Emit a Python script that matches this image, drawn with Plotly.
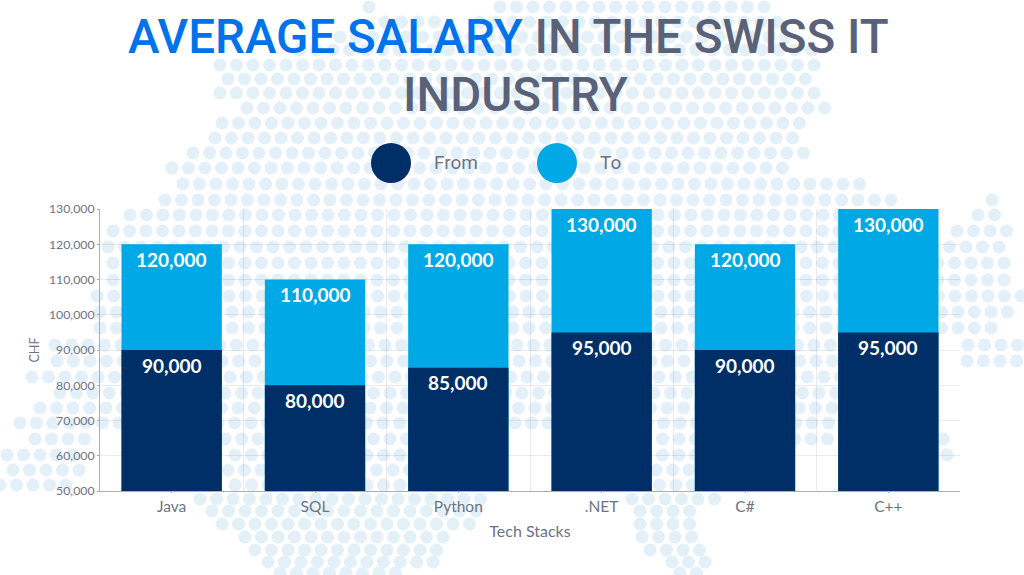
import plotly.graph_objects as go

categories = ["Java", "SQL", "Python", ".NET", "C#", "C++"]
salary_from = [90000, 80000, 85000, 95000, 90000, 95000]
salary_to = [120000, 110000, 120000, 130000, 120000, 130000]
y_ticks = list(range(50000, 130001, 10000))

# Decorative dotted map behind the chart: (row y in px, [(x from, x to), ...])
map_rows = [
    (7, [(369, 369), (500, 765)]), (22, [(385, 450), (480, 790)]), (37, [(340, 800)]),
    (50, [(300, 815)]), (65, [(220, 828)]), (79, [(228, 820)]), (93, [(220, 828)]),
    (108, [(247, 837)]), (123, [(222, 810)]), (138, [(215, 800)]), (153, [(193, 805)]),
    (168, [(172, 793)]), (184, [(183, 863)]), (200, [(165, 898), (992, 992)]),
    (215, [(130, 895), (978, 1010)]), (231, [(113, 895), (957, 1015)]),
    (247, [(108, 1015)]), (263, [(113, 1015)]), (280, [(113, 1015)]), (296, [(97, 1024)]),
    (312, [(100, 1010)]), (328, [(100, 1000)]), (345, [(55, 940), (968, 1024)]),
    (361, [(57, 920), (967, 1024)]), (377, [(32, 900)]), (393, [(60, 900)]),
    (408, [(40, 945)]), (423, [(20, 930)]), (439, [(35, 85), (225, 500), (580, 950)]),
    (455, [(7, 85), (235, 490), (580, 700), (947, 963)]),
    (470, [(13, 85), (228, 490), (590, 700)]), (485, [(0, 70), (235, 480), (610, 705)]),
    (499, [(200, 490), (632, 715)]), (511, [(212, 482), (640, 705)]),
    (524, [(222, 475), (640, 695)]), (537, [(245, 450), (642, 695)]),
    (550, [(255, 443), (650, 702)]), (562, [(268, 435), (672, 708)]), (573, [(280, 400), (680, 700)]),
]

dot_x, dot_y = [], []
for i, (row_y, spans) in enumerate(map_rows):
    for x0, x1 in spans:
        x = x0
        while x <= x1:
            dot_x.append(x)
            dot_y.append(row_y)
            x += 16.5

fig = go.Figure()
fig.add_trace(go.Scatter(
    x=dot_x, y=dot_y, mode="markers", hoverinfo="skip", showlegend=False,
    marker=dict(size=13, color="#E3F0F7", line=dict(width=0)),
    xaxis="x", yaxis="y",
))

idx = list(range(len(categories)))
fig.add_trace(go.Bar(x=idx, y=salary_to, name="To", width=0.7, marker=dict(color="#00A9E5", line=dict(width=0)),
                     xaxis="x2", yaxis="y2", showlegend=False))
fig.add_trace(go.Bar(x=idx, y=salary_from, name="From", width=0.7, marker=dict(color="#002E66", line=dict(width=0)),
                     xaxis="x2", yaxis="y2", showlegend=False))

GRAY = "#6B7388"
GRID = "rgba(110,125,150,0.16)"
annotations = []
for series in (salary_from, salary_to):
    for i, v in enumerate(series):
        annotations.append(dict(
            x=i, y=v, xref="x2", yref="y2", text=f"{v:,}", showarrow=False, yshift=-15,
            font=dict(family="Lato", size=19, color="white", weight=700),
        ))

TITLE_FONT = "Roboto"
label = dict(xref="paper", yref="paper", showarrow=False, xanchor="center", yanchor="middle")
annotations += [
    dict(x=508 / 1024, y=1 - 37 / 575, **label,
         text="<span style='color:#0073EC'>AVERAGE SALARY</span> IN THE SWISS IT",
         font=dict(family=TITLE_FONT, size=47.5, color="#5A6279", weight=500)),
    dict(x=515 / 1024, y=1 - 95 / 575, **label,
         text="INDUSTRY", font=dict(family=TITLE_FONT, size=47.5, color="#5A6279", weight=500)),
    dict(x=456 / 1024, y=1 - 163 / 575, **label,
         text="From", font=dict(family="Roboto", size=19, color=GRAY)),
    dict(x=610 / 1024, y=1 - 163 / 575, **label,
         text="To", font=dict(family="Roboto", size=19, color=GRAY)),
]

shapes = [
    dict(type="circle", xref="paper", yref="paper", line=dict(width=0), fillcolor=c,
         x0=(cx - 20) / 1024, x1=(cx + 20) / 1024, y0=1 - (163 + 20) / 575, y1=1 - (163 - 20) / 575)
    for cx, c in ((391, "#002E66"), (557, "#00A9E5"))
]

fig.update_layout(
    width=1024, height=575, margin=dict(l=0, r=0, t=0, b=0, autoexpand=False),
    paper_bgcolor="white", plot_bgcolor="rgba(0,0,0,0)",
    barmode="overlay", showlegend=False,
    annotations=annotations, shapes=shapes,
    font=dict(family="Lato", color=GRAY),
    xaxis=dict(domain=[0, 1], range=[0, 1024], visible=False, fixedrange=True, automargin=False),
    yaxis=dict(domain=[0, 1], range=[575, 0], visible=False, fixedrange=True, automargin=False),
    xaxis2=dict(
        domain=[100 / 1024, 960 / 1024], range=[-0.5, 5.5], anchor="y2", automargin=False,
        tickmode="array", tickvals=idx, ticktext=categories, ticks="outside", ticklen=1,
        tickcolor="#A8ADB8", showgrid=False, showline=True, linecolor="#A8ADB8", linewidth=1,
        tickfont=dict(family="Lato", size=15.5, color=GRAY),
        title=dict(text="Tech Stacks", font=dict(family="Lato", size=16, color=GRAY), standoff=12),
        minor=dict(tickmode="array", tickvals=[0.5, 1.5, 2.5, 3.5, 4.5], showgrid=True,
                   gridcolor=GRID, gridwidth=1, ticks=""),
        zeroline=False,
    ),
    yaxis2=dict(
        domain=[84 / 575, 366 / 575], range=[50000, 130000], anchor="x2", automargin=False,
        tickmode="array", tickvals=y_ticks, tickformat=",d", ticks="outside", ticklen=2,
        tickcolor="#A8ADB8", showgrid=True, gridcolor=GRID, gridwidth=1,
        showline=True, linecolor="#A8ADB8", linewidth=1, zeroline=False,
        tickfont=dict(family="Lato", size=12.3, color=GRAY),
        title=dict(text="CHF", font=dict(family="Lato", size=12.5, color=GRAY), standoff=6),
    ),
)

fig.write_html("out.html", config={"displayModeBar": False},
               post_script="document.body.style.margin='0';")
